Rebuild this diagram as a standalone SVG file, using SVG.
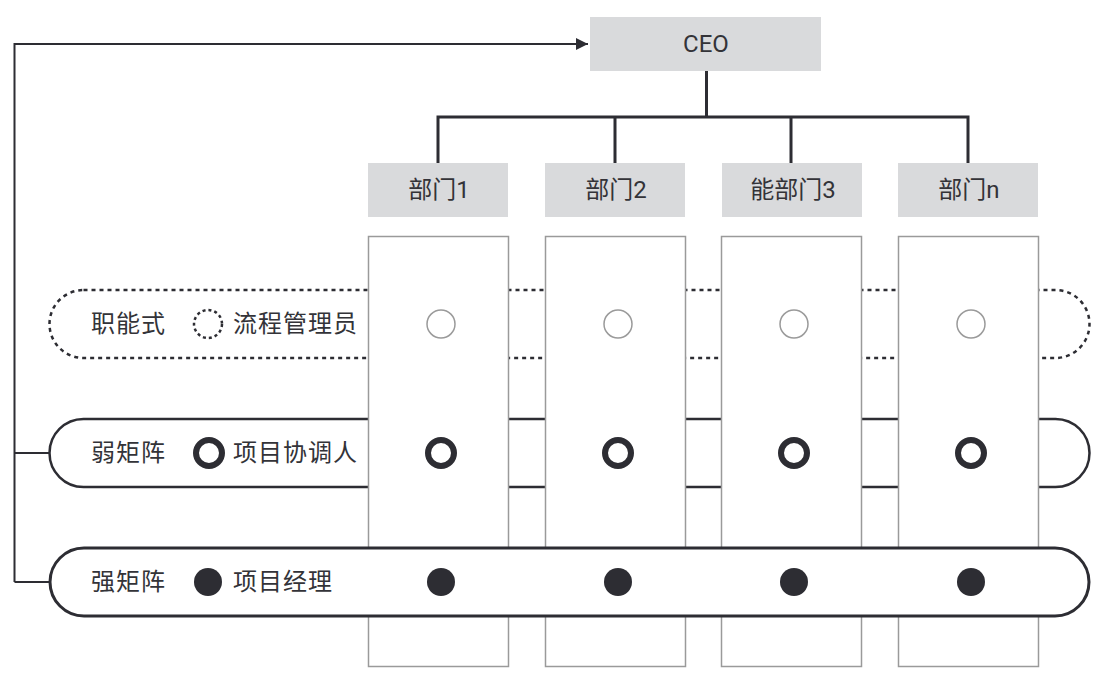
<svg xmlns="http://www.w3.org/2000/svg" width="1106" height="686" viewBox="0 0 1106 686">
<style>
text{font-family:Roboto,"Noto Sans CJK SC",sans-serif;font-size:24px;fill:#333338;dominant-baseline:central}
.c{text-anchor:middle}
.lbl{letter-spacing:1px}
.box{fill:#d9dadc}
.col{fill:#fff;stroke:#9a9a9a;stroke-width:1.5}
.ln{fill:none;stroke:#2d2d33;stroke-width:3}
.thin{fill:none;stroke:#2d2d33;stroke-width:2}
.hollow{fill:#fff;stroke:#9a9a9a;stroke-width:1.5}
.ring{fill:none;stroke:#2d2d33;stroke-width:6}
.dot{fill:#2d2d33}
</style>
<defs>
<marker id="ah" markerWidth="14" markerHeight="14" refX="12" refY="6" orient="auto" markerUnits="userSpaceOnUse"><path d="M0,0 L12,6 L0,12 Z" fill="#2d2d33"/></marker>
</defs>

<g id="band-functional">
<rect x="49.5" y="290" width="1040" height="68" rx="34" fill="none" stroke="#2d2d33" stroke-width="2.5" stroke-dasharray="4 4"/>
</g>
<g id="band-weak">
<rect x="49.5" y="419" width="1040" height="68" rx="34" fill="#fff" stroke="#2d2d33" stroke-width="2.5"/>
</g>

<g id="columns">
<rect class="col" x="368.5" y="236.5" width="140" height="430"/>
<rect class="col" x="545.5" y="236.5" width="140" height="430"/>
<rect class="col" x="721.5" y="236.5" width="140" height="430"/>
<rect class="col" x="898.5" y="236.5" width="140" height="430"/>
</g>

<g id="band-strong">
<rect x="50" y="548" width="1039" height="68" rx="34" fill="#fff" stroke="#2d2d33" stroke-width="3"/>
</g>

<g id="connectors">
<path class="ln" d="M706.5,71 V117 M438,117 H968 M438,115.5 V163 M615,115.5 V163 M791,115.5 V163 M968,115.5 V163"/>
<path class="thin" d="M14.5,582 V44 H588" marker-end="url(#ah)"/>
<path class="thin" d="M14.5,453 H49 M14.5,582 H50"/>
</g>

<g id="ceo"><rect class="box" x="590" y="17" width="231" height="54"/><text class="c" x="706" y="44">CEO</text></g>
<g id="dept1"><rect class="box" x="368" y="163" width="140" height="54"/><text class="c" x="439" y="190">部门1</text></g>
<g id="dept2"><rect class="box" x="545" y="163" width="140" height="54"/><text class="c" x="616" y="190">部门2</text></g>
<g id="dept3"><rect class="box" x="722" y="163" width="140" height="54"/><text class="c" x="793" y="190">能部门3</text></g>
<g id="deptn"><rect class="box" x="898" y="163" width="140" height="54"/><text class="c" x="969" y="190">部门n</text></g>

<g id="functional-labels">
<text class="lbl" x="91" y="324">职能式</text>
<circle cx="208" cy="324" r="14" fill="none" stroke="#2d2d33" stroke-width="2.5" stroke-dasharray="3 3"/>
<text class="lbl" x="233" y="324">流程管理员</text>
<circle class="hollow" cx="441" cy="324" r="14"/>
<circle class="hollow" cx="618" cy="324" r="14"/>
<circle class="hollow" cx="794" cy="324" r="14"/>
<circle class="hollow" cx="971" cy="324" r="14"/>
</g>

<g id="weak-labels">
<text class="lbl" x="91" y="453">弱矩阵</text>
<circle class="ring" cx="209" cy="453" r="13"/>
<text class="lbl" x="233" y="453">项目协调人</text>
<circle class="ring" cx="441" cy="453" r="13"/>
<circle class="ring" cx="618" cy="453" r="13"/>
<circle class="ring" cx="794" cy="453" r="13"/>
<circle class="ring" cx="971" cy="453" r="13"/>
</g>

<g id="strong-labels">
<text class="lbl" x="91" y="582">强矩阵</text>
<circle class="dot" cx="208" cy="582" r="14"/>
<text class="lbl" x="233" y="582">项目经理</text>
<circle class="dot" cx="441" cy="582" r="14"/>
<circle class="dot" cx="618" cy="582" r="14"/>
<circle class="dot" cx="794" cy="582" r="14"/>
<circle class="dot" cx="971" cy="582" r="14"/>
</g>
</svg>
